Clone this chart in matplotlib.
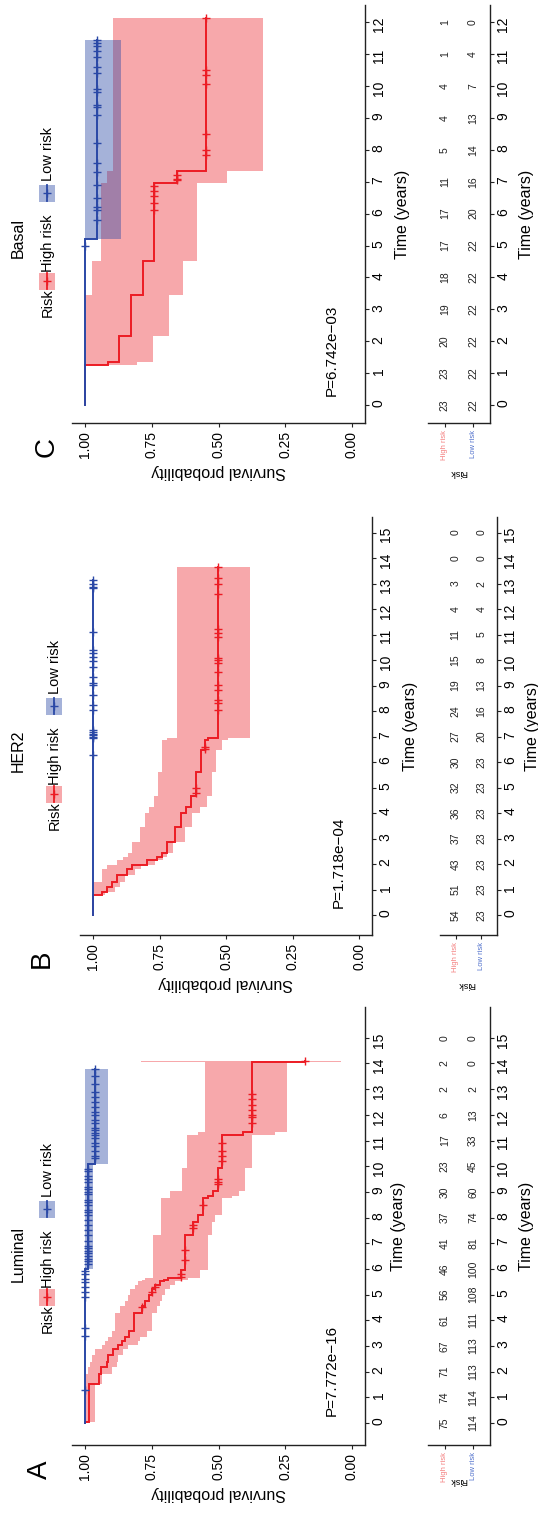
import numpy as np
import matplotlib
matplotlib.use('Agg')
import matplotlib.pyplot as plt
from matplotlib.patches import Rectangle

plt.rcParams['font.family'] = ['Liberation Sans', 'DejaVu Sans']

RED = '#EC1C24'
BLUE = '#2A48A6'
HI_TXT = '#F47F7F'
LO_TXT = '#5272CC'

# ---------------- Luminal (A) ----------------
lum_hi_t = [0, 0.05, 1.51, 1.89, 2.16, 2.36, 2.64, 2.86, 3.04, 3.18, 3.35, 3.58, 4.30, 4.57, 4.73, 5.00,
            5.20, 5.38, 5.54, 5.58, 5.64, 5.95, 7.30, 7.84, 8.11, 8.76, 8.85, 9.03, 9.93, 11.20, 11.35, 14.05]
lum_hi_s = [1.0, 0.987, 0.948, 0.940, 0.919, 0.913, 0.894, 0.875, 0.863, 0.850, 0.835, 0.815, 0.788, 0.775,
            0.760, 0.748, 0.738, 0.719, 0.703, 0.688, 0.640, 0.625, 0.594, 0.576, 0.557, 0.540, 0.519, 0.501,
            0.488, 0.407, 0.376, 0.176]
lum_hi_up = [1.0, 1.0, 1.0, 0.99, 0.98, 0.975, 0.963, 0.938, 0.925, 0.913, 0.90, 0.888, 0.869, 0.850, 0.838,
             0.831, 0.813, 0.800, 0.788, 0.775, 0.744, 0.744, 0.715, 0.715, 0.715, 0.682, 0.682, 0.638, 0.619,
             0.576, 0.551, 0.79]
lum_hi_lo = [1.0, 0.963, 0.938, 0.90, 0.882, 0.875, 0.856, 0.838, 0.80, 0.794, 0.769, 0.75, 0.732, 0.719,
             0.71, 0.70, 0.681, 0.663, 0.638, 0.613, 0.569, 0.538, 0.526, 0.513, 0.488, 0.449, 0.424, 0.40,
             0.376, 0.288, 0.245, 0.04]
lum_hi_end = 14.1
lum_hi_cens = [4.5, 5.1, 5.3, 5.7, 5.8, 6.35, 6.75, 7.6, 7.7, 8.5, 9.3, 9.4, 9.5, 10.2, 10.4, 10.6, 10.9,
               11.7, 11.9, 12.0, 12.2, 12.4, 12.6, 12.8, 14.1]

lum_lo_t = [0, 6.0, 10.1]
lum_lo_s = [1.0, 0.99, 0.963]
lum_lo_up = [1.0, 1.0, 1.0]
lum_lo_lo = [1.0, 0.972, 0.915]
lum_lo_end = 13.8
lum_lo_cens = [1.3, 3.4, 3.7, 4.9, 5.1, 5.3, 5.5, 5.6, 5.8, 5.9, 6.2, 6.3, 6.4, 6.5, 6.6, 6.7, 6.8, 6.9,
               7.1, 7.3, 7.5, 7.7, 7.9, 8.1, 8.2, 8.3, 8.5, 8.6, 8.7, 8.9, 9.0, 9.1, 9.2, 9.4, 9.5, 9.6,
               9.8, 9.9, 10.3, 10.4, 10.6, 10.8, 10.9, 11.1, 11.2, 11.3, 11.4, 11.5, 11.7, 11.8, 12.0,
               12.1, 12.3, 12.5, 12.7, 12.9, 13.2, 13.5, 13.8]

lum_risk_hi = [75, 74, 71, 67, 61, 56, 46, 41, 37, 30, 23, 17, 6, 2, 2, 0]
lum_risk_lo = [114, 114, 113, 113, 111, 108, 100, 81, 74, 60, 45, 33, 13, 2, 0, 0]

# ---------------- HER2 (B) ----------------
her_hi_t = [0, 0.78, 0.92, 1.11, 1.31, 1.57, 1.79, 1.97, 2.16, 2.29, 2.42, 2.88, 3.46, 4.02, 4.25, 4.67,
            5.62, 6.47, 6.86, 6.93]
her_hi_s = [1.0, 0.967, 0.949, 0.930, 0.911, 0.873, 0.852, 0.798, 0.761, 0.742, 0.723, 0.692, 0.669, 0.652,
            0.632, 0.613, 0.594, 0.579, 0.569, 0.529]
her_hi_up = [1.0, 1.0, 1.0, 1.0, 0.967, 0.967, 0.949, 0.911, 0.886, 0.870, 0.852, 0.823, 0.805, 0.789,
             0.771, 0.755, 0.740, 0.740, 0.720, 0.686]
her_hi_lo = [1.0, 0.955, 0.917, 0.90, 0.88, 0.842, 0.82, 0.767, 0.736, 0.72, 0.698, 0.654, 0.627, 0.598,
             0.573, 0.554, 0.536, 0.516, 0.494, 0.41]
her_hi_end = 13.66
her_hi_cens = [4.8, 5.0, 6.5, 6.6, 8.04, 8.30, 8.43, 8.82, 9.02, 9.54, 9.87, 10.0, 10.1, 10.9, 11.05,
               11.2, 12.6, 13.0, 13.2, 13.66]

her_lo_t = [0]
her_lo_s = [1.0]
her_lo_up = [1.0]
her_lo_lo = [1.0]
her_lo_end = 13.14
her_lo_cens = [6.28, 6.93, 6.99, 7.06, 7.12, 7.19, 7.25, 8.04, 8.24, 8.63, 9.02, 9.1, 9.35, 9.74, 9.95,
               10.13, 10.26, 10.39, 11.11, 12.81, 12.88, 13.0, 13.14]

her_risk_hi = [54, 51, 43, 37, 36, 32, 30, 27, 24, 19, 15, 11, 4, 3, 0, 0]
her_risk_lo = [23, 23, 23, 23, 23, 23, 23, 20, 16, 13, 8, 5, 4, 2, 0, 0]

# ---------------- Basal (C) ----------------
bas_hi_t = [0, 1.24, 1.35, 2.15, 3.46, 4.51, 6.96, 7.33]
bas_hi_s = [1.0, 0.913, 0.871, 0.828, 0.784, 0.740, 0.657, 0.548]
bas_hi_up = [1.0, 1.0, 1.0, 1.0, 0.973, 0.941, 0.919, 0.896]
bas_hi_lo = [1.0, 0.806, 0.744, 0.685, 0.634, 0.582, 0.469, 0.334]
bas_hi_end = 12.14
bas_hi_cens = [6.12, 6.33, 6.55, 6.71, 6.87, 7.04, 7.1, 7.2, 7.85, 7.99, 8.5, 10.05, 10.34, 10.5, 12.14]

bas_lo_t = [0, 5.21]
bas_lo_s = [1.0, 0.955]
bas_lo_up = [1.0, 1.0]
bas_lo_lo = [1.0, 0.866]
bas_lo_end = 11.45
bas_lo_cens = [5.0, 5.8, 6.1, 6.2, 6.5, 6.9, 7.3, 7.6, 8.2, 9.1, 9.35, 9.4, 9.8, 9.9, 10.4, 10.6, 10.9,
               11.1, 11.25, 11.35, 11.45]

bas_risk_hi = [23, 23, 20, 19, 18, 17, 17, 11, 5, 4, 4, 1, 1]
bas_risk_lo = [22, 22, 22, 22, 22, 22, 20, 16, 14, 13, 7, 4, 0]

p_values = ['P=7.772e\u221216', 'P=1.718e\u221204', 'P=6.742e\u221203']

W, H = 538, 1516
fig = plt.figure(figsize=(W / 100, H / 100), dpi=100)
fig.patch.set_facecolor('white')


def px_axes(x0, x1, y0, y1):
    return fig.add_axes([x0 / W, 1 - y1 / H, (x1 - x0) / W, (y1 - y0) / H])


def draw_group(ax, t, s, up, lo, end, cens, color, alpha, fill_only=False, line_only=False):
    t = np.asarray(t, float)
    s = np.asarray(s, float)
    if not line_only:
        tt = np.append(t, end)
        ax.fill_betweenx(tt, np.append(lo, lo[-1]), np.append(up, up[-1]), step='post',
                         color=color, alpha=alpha, lw=0, zorder=1)
    if not fill_only:
        ty = np.repeat(np.append(t, end), 2)[1:-1]
        sx = np.repeat(s, 2)
        ax.plot(sx, ty, color=color, lw=1.4, solid_joinstyle='miter', zorder=3)
        idx = np.searchsorted(t, cens, side='right') - 1
        ax.plot(s[idx], cens, ls='none', marker='+', ms=6, mew=1.0, color=color, zorder=4)


def style_axes(ax, ylim, tmax):
    ax.set_ylim(*ylim)
    ax.set_yticks(range(0, tmax + 1))
    ax.yaxis.tick_right()
    for sp in ['top', 'left']:
        ax.spines[sp].set_visible(False)
    for sp in ['bottom', 'right']:
        ax.spines[sp].set_linewidth(1.0)
        ax.spines[sp].set_color('#222222')
    ax.tick_params(axis='y', labelrotation=90, labelsize=10, length=3, pad=1.5, width=0.8, color='#222222')
    ax.tick_params(axis='x', labelrotation=90, labelsize=10, length=3, pad=2.5, width=0.8, color='#222222')
    ax.patch.set_alpha(0)


panels = [
    dict(letter='A', title='Luminal', tmax=15,
         hi=(lum_hi_t, lum_hi_s, lum_hi_up, lum_hi_lo, lum_hi_end, lum_hi_cens),
         lo=(lum_lo_t, lum_lo_s, lum_lo_up, lum_lo_lo, lum_lo_end, lum_lo_cens),
         risk=(lum_risk_hi, lum_risk_lo), p=p_values[0],
         sx=(71.7, 365.3), tx=(428, 490), ybox=(1007, 1445), ylim=(-0.86, 16.2),
         leg_x=47, leg_y=1333, letter_xy=(40, 1470), tlab=(399, 527), risk_lab=(458, 1481)),
    dict(letter='B', title='HER2', tmax=15,
         hi=(her_hi_t, her_hi_s, her_hi_up, her_hi_lo, her_hi_end, her_hi_cens),
         lo=(her_lo_t, her_lo_s, her_lo_up, her_lo_lo, her_lo_end, her_lo_cens),
         risk=(her_risk_hi, her_risk_lo), p=p_values[1],
         sx=(79.7, 372.3), tx=(440, 497), ybox=(517, 935), ylim=(-0.78, 15.61),
         leg_x=54, leg_y=830, letter_xy=(42, 959), tlab=(411, 533), risk_lab=(466, 985)),
    dict(letter='C', title='Basal', tmax=12,
         hi=(bas_hi_t, bas_hi_s, bas_hi_up, bas_hi_lo, bas_hi_end, bas_hi_cens),
         lo=(bas_lo_t, bas_lo_s, bas_lo_up, bas_lo_lo, bas_lo_end, bas_lo_cens),
         risk=(bas_risk_hi, bas_risk_lo), p=p_values[2],
         sx=(71.7, 365.3), tx=(428, 490), ybox=(5, 423), ylim=(-0.564, 12.54),
         leg_x=47, leg_y=317, letter_xy=(47, 447), tlab=(403, 527), risk_lab=(458, 473)),
]

ov = fig.add_axes([0, 0, 1, 1], zorder=10)
ov.set_xlim(0, W)
ov.set_ylim(H, 0)
ov.axis('off')

for pn in panels:
    y0, y1 = pn['ybox']
    # survival curves
    ax = px_axes(pn['sx'][0], pn['sx'][1], y0, y1)
    draw_group(ax, *pn['hi'], RED, 0.38, fill_only=True)
    draw_group(ax, *pn['lo'], BLUE, 0.42, fill_only=True)
    draw_group(ax, *pn['hi'], RED, 0.38, line_only=True)
    draw_group(ax, *pn['lo'], BLUE, 0.42, line_only=True)
    ax.set_xlim(1.05, -0.05)
    ax.set_xticks([1.0, 0.75, 0.5, 0.25, 0.0])
    ax.set_xticklabels(['1.00', '0.75', '0.50', '0.25', '0.00'])
    style_axes(ax, pn['ylim'], pn['tmax'])
    ax.text(0.075, 0.27, pn['p'], rotation=90, ha='center', va='bottom', fontsize=11)

    # risk table
    tb = px_axes(pn['tx'][0], pn['tx'][1], y0, y1)
    tb.set_xlim(0.4, 2.6)
    rh, rl = pn['risk']
    for k in range(len(rh)):
        tb.text(1, k, str(rh[k]), rotation=90, ha='center', va='center', fontsize=7.5, color='#222222')
        tb.text(2, k, str(rl[k]), rotation=90, ha='center', va='center', fontsize=7.5, color='#222222')
    tb.set_xticks([1, 2])
    tb.set_xticklabels(['High risk', 'Low risk'])
    style_axes(tb, pn['ylim'], pn['tmax'])
    tb.tick_params(axis='x', labelsize=5.5, pad=2)
    tb.get_xticklabels()[0].set_color(HI_TXT)
    tb.get_xticklabels()[1].set_color(LO_TXT)

    # labels
    ymid = (y0 + y1) / 2
    sx_mid = (pn['sx'][0] + pn['sx'][1]) / 2
    ov.text(sx_mid, y1 + 48, 'Survival probability', rotation=180, ha='center', va='center', fontsize=11.5)
    ov.text(pn['tlab'][0], ymid, 'Time (years)', rotation=90, ha='center', va='center', fontsize=11.5)
    ov.text(pn['tlab'][1], ymid, 'Time (years)', rotation=90, ha='center', va='center', fontsize=11.5)
    ov.text(pn['risk_lab'][0], pn['risk_lab'][1], 'Risk', rotation=180, ha='center', va='center', fontsize=6.5)
    ov.text(pn['letter_xy'][0], pn['letter_xy'][1], pn['letter'], rotation=90, ha='center', va='center',
            fontsize=20)

    # legend
    lx, ly = pn['leg_x'], pn['leg_y']
    ov.text(18, ly - 79, pn['title'], rotation=90, ha='center', va='center', fontsize=11.5)
    ov.text(lx + 1, ly, 'Risk', rotation=90, ha='center', va='bottom', fontsize=10.5)
    for color, alpha, yk, lab, yl in [(RED, 0.38, ly - 36, 'High risk', ly - 45),
                                       (BLUE, 0.42, ly - 124, 'Low risk', ly - 136)]:
        ov.add_patch(Rectangle((lx - 8, yk - 8.5), 16, 17, facecolor=color, alpha=alpha, lw=0))
        ov.plot([lx, lx], [yk - 8, yk + 8], color=color, lw=1.3)
        ov.plot([lx], [yk], marker='+', ms=6, mew=1.0, color=color)
        ov.text(lx + 1, yl, lab, rotation=90, ha='center', va='bottom', fontsize=10.5)

fig.savefig('out.png', dpi=100, facecolor='white')
